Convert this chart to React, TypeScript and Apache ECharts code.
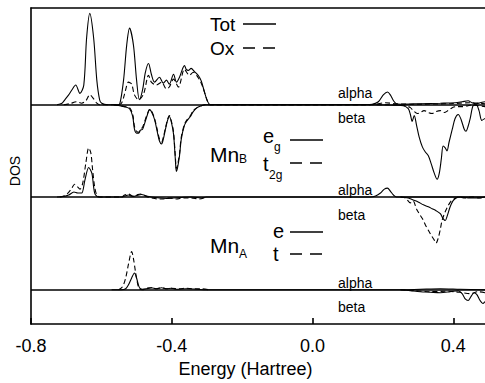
import React, { useEffect, useRef } from "react";
import * as echarts from "echarts";

// ---- axis / tick data ----
const energyMin = -0.8;
const energyMax = 0.49;
const energyTickStep = 0.4;
const dosMin = 0;
const dosMax = 322;

// ---- panel baselines (DOS units on the shared axis) ----
const baseTot = 223.5;
const baseMnB = 129.5;
const baseMnA = 35;

// ---- Panel 1: total and oxygen DOS ----
const totAlpha: [number, number][] = [
  [-0.726, 0], [-0.712, 1.5], [-0.704, 5], [-0.693, 10], [-0.684, 15], [-0.673, 20], [-0.661, 11.5],
  [-0.650, 20], [-0.642, 68], [-0.633, 93], [-0.622, 68], [-0.613, 25], [-0.605, 5], [-0.599, 1.5],
  [-0.582, 0], [-0.554, 0], [-0.548, 0.5], [-0.537, 25], [-0.528, 61], [-0.520, 78], [-0.509, 61],
  [-0.500, 25], [-0.492, 5], [-0.483, 15], [-0.475, 33], [-0.466, 42], [-0.458, 31], [-0.449, 23],
  [-0.435, 28], [-0.424, 22], [-0.415, 25], [-0.407, 21], [-0.395, 31], [-0.387, 23], [-0.378, 28],
  [-0.370, 36], [-0.364, 40], [-0.359, 36], [-0.353, 35], [-0.345, 37], [-0.336, 34], [-0.325, 30],
  [-0.316, 24], [-0.308, 14], [-0.299, 4], [-0.291, 0], [0.151, 0], [0.170, 0.5], [0.187, 3],
  [0.201, 10], [0.213, 13], [0.221, 10], [0.230, 4], [0.238, 1], [0.250, 0.5], [0.306, 1],
  [0.363, 1.5], [0.405, 2], [0.425, 3], [0.442, 4], [0.453, 2], [0.465, 1], [0.476, 2], [0.490, 3],
];
const oxAlpha: [number, number][] = [
  [-0.707, 0], [-0.690, 1], [-0.670, 3], [-0.656, 1.5], [-0.644, 4], [-0.633, 10], [-0.622, 6],
  [-0.613, 1.5], [-0.605, 0], [-0.554, 0], [-0.543, 1.5], [-0.534, 11], [-0.523, 23], [-0.514, 21],
  [-0.506, 10], [-0.494, 5], [-0.480, 11], [-0.466, 30], [-0.458, 23], [-0.444, 20], [-0.429, 23],
  [-0.415, 16], [-0.407, 18], [-0.395, 26], [-0.381, 18], [-0.364, 36], [-0.350, 30], [-0.339, 33],
  [-0.322, 26], [-0.311, 17], [-0.299, 4], [-0.291, 0], [0.151, 0], [0.179, 0.5], [0.207, 2],
  [0.235, 1], [0.278, 0.5], [0.391, 1], [0.448, 2], [0.490, 1],
];
const totBeta: [number, number][] = [
  [-0.565, 0], [-0.548, -1], [-0.534, -2], [-0.520, -4], [-0.511, -12], [-0.506, -25], [-0.500, -29],
  [-0.494, -29], [-0.489, -26], [-0.483, -25], [-0.478, -20], [-0.469, -10], [-0.463, -5], [-0.458, -7],
  [-0.449, -15], [-0.441, -28], [-0.435, -37], [-0.429, -40], [-0.424, -35], [-0.418, -25], [-0.412, -16],
  [-0.407, -12], [-0.401, -18], [-0.395, -30], [-0.390, -55], [-0.387, -68], [-0.384, -65], [-0.378, -52],
  [-0.373, -35], [-0.364, -21], [-0.356, -16], [-0.347, -12], [-0.339, -7], [-0.328, -3], [-0.316, -1],
  [-0.305, 0], [0.165, 0], [0.235, -0.5], [0.258, -1], [0.272, -4], [0.278, -10], [0.283, -17],
  [0.289, -11], [0.295, -20], [0.303, -33], [0.312, -43], [0.320, -48], [0.329, -52], [0.337, -60],
  [0.346, -70], [0.354, -76], [0.360, -70], [0.366, -55], [0.371, -42], [0.377, -44], [0.382, -47],
  [0.388, -38], [0.397, -25], [0.405, -14], [0.414, -10], [0.422, -15], [0.431, -25], [0.436, -27],
  [0.442, -22], [0.448, -14], [0.456, -1], [0.465, 0], [0.473, -6], [0.481, -16], [0.490, -14],
];
const oxBeta: [number, number][] = [
  [-0.565, 0], [-0.534, -2], [-0.520, -3], [-0.511, -10], [-0.506, -22], [-0.500, -27], [-0.494, -28],
  [-0.489, -25], [-0.483, -23], [-0.478, -18], [-0.469, -9], [-0.463, -5], [-0.458, -6], [-0.449, -14],
  [-0.441, -26], [-0.435, -35], [-0.429, -38], [-0.424, -33], [-0.418, -24], [-0.412, -15], [-0.407, -11],
  [-0.401, -17], [-0.395, -28], [-0.390, -52], [-0.387, -65], [-0.384, -62], [-0.378, -50], [-0.373, -33],
  [-0.364, -20], [-0.356, -15], [-0.347, -11], [-0.339, -6], [-0.328, -3], [-0.316, -1], [-0.305, 0],
  [0.235, 0], [0.264, -1], [0.278, -3], [0.286, -6], [0.298, -9], [0.306, -8], [0.317, -6], [0.329, -8],
  [0.340, -9], [0.351, -7], [0.363, -6], [0.374, -8], [0.385, -6], [0.397, -3], [0.408, -2], [0.425, -2],
  [0.442, -1], [0.456, 0], [0.470, -1], [0.490, -2],
];

// ---- Panel 2: Mn_B projected DOS ----
const egAlphaB: [number, number][] = [
  [-0.726, 0], [-0.707, 0.5], [-0.693, 2], [-0.678, 5], [-0.667, 4], [-0.656, 4], [-0.647, 17],
  [-0.636, 30], [-0.627, 24], [-0.619, 4], [-0.608, 0], [-0.543, 0], [-0.534, 1], [-0.523, 2],
  [-0.511, 0.5], [-0.500, 1.5], [-0.486, 2.5], [-0.472, 1], [-0.458, 0], [-0.435, -1], [-0.415, -1.5],
  [-0.395, -1], [-0.373, -0.5], [-0.345, 0], [-0.316, -1], [-0.302, 0], [0.165, 0], [0.179, 1],
  [0.193, 4], [0.204, 8], [0.213, 9], [0.221, 6], [0.230, 2], [0.238, 0], [0.490, 0],
];
const t2gAlphaB: [number, number][] = [
  [-0.718, 0], [-0.707, 1], [-0.695, 4], [-0.684, 9], [-0.676, 13], [-0.667, 10], [-0.661, 8],
  [-0.653, 14], [-0.644, 35], [-0.636, 50], [-0.630, 45], [-0.625, 28], [-0.619, 10], [-0.613, 2],
  [-0.605, 0], [-0.543, 0], [-0.534, 2], [-0.523, 3], [-0.511, 1], [-0.500, 2], [-0.489, 3],
  [-0.475, 1], [-0.458, -1], [-0.441, -2], [-0.424, -2], [-0.407, -1], [-0.387, -2], [-0.367, -1],
  [-0.345, -1], [-0.322, -2], [-0.302, 0],
];
const egBetaB: [number, number][] = [
  [0.250, 0], [0.272, -1], [0.286, -3], [0.300, -5], [0.315, -8], [0.329, -10], [0.340, -12],
  [0.351, -14], [0.363, -17], [0.371, -22], [0.377, -24], [0.382, -20], [0.391, -10], [0.399, -4],
  [0.408, -1], [0.419, 0], [0.448, -1], [0.470, -1], [0.490, 0],
];
const t2gBetaB: [number, number][] = [
  [0.250, 0], [0.264, -1], [0.278, -6], [0.286, -4], [0.295, -12], [0.303, -17], [0.312, -22],
  [0.320, -28], [0.329, -34], [0.337, -39], [0.346, -44], [0.351, -47], [0.357, -42], [0.363, -33],
  [0.368, -24], [0.377, -15], [0.385, -9], [0.394, -4], [0.402, -2], [0.414, 0], [0.433, -1],
  [0.453, 0], [0.476, -1], [0.490, 0],
];

// ---- Panel 3: Mn_A projected DOS ----
const eAlphaA: [number, number][] = [
  [-0.571, 0], [-0.543, 0], [-0.531, 1], [-0.523, 5], [-0.514, 12], [-0.506, 17], [-0.500, 12],
  [-0.494, 4], [-0.489, 1], [-0.483, 0.5], [-0.472, 1], [-0.458, 2], [-0.444, 1], [-0.429, 2],
  [-0.415, 1], [-0.401, 1.5], [-0.387, 0.5], [-0.359, 1], [-0.330, 0.5], [-0.302, 0], [0.250, 0],
  [0.306, 0.5], [0.363, 1], [0.419, 0.5], [0.490, 0],
];
const tAlphaA: [number, number][] = [
  [-0.551, 0], [-0.540, 3], [-0.531, 12], [-0.523, 26], [-0.514, 39], [-0.509, 32], [-0.503, 18],
  [-0.497, 6], [-0.492, 1], [-0.483, 0], [-0.472, 1.5], [-0.458, 2], [-0.444, 1], [-0.429, 2],
  [-0.415, 1], [-0.401, 1.5], [-0.378, 1], [-0.359, 1.5], [-0.339, 1], [-0.316, 1], [-0.296, 0],
];
const eBetaA: [number, number][] = [
  [0.250, 0], [0.278, -1], [0.306, -2], [0.334, -2.5], [0.363, -3], [0.391, -2], [0.414, -1],
  [0.425, -4], [0.433, -9], [0.442, -11], [0.450, -7], [0.459, -3], [0.467, -5], [0.476, -11],
  [0.484, -14], [0.490, -12],
];
const tBetaA: [number, number][] = [
  [0.250, 0], [0.292, -1], [0.334, -2], [0.377, -1.5], [0.405, -2], [0.425, -3], [0.448, -4],
  [0.470, -2], [0.490, -3],
];

const FONT = "'Liberation Sans', Arial, Helvetica, sans-serif";

function curve(name: string, pts: [number, number][], base: number, dashed: boolean, baseline?: boolean) {
  const s: any = {
    type: "line",
    name,
    data: pts.map(([e, v]) => [e, v + base]),
    symbol: "none",
    showSymbol: false,
    smooth: 0.3,
    silent: true,
    lineStyle: { color: "#000", width: 1.1, type: dashed ? [5, 3] : "solid" },
    z: dashed ? 3 : 4,
  };
  if (baseline) {
    s.markLine = {
      silent: true,
      symbol: ["none", "none"],
      label: { show: false },
      lineStyle: { color: "#000", width: 1.6, type: "solid" },
      data: [{ yAxis: base }],
    };
  }
  return s;
}

function txt(text: string, x: number, y: number, size: number, extra: any = {}) {
  return {
    type: "text",
    x,
    y,
    silent: true,
    z: 10,
    style: { text, fill: "#000", fontSize: size, fontFamily: FONT, align: "left", verticalAlign: "middle", ...extra },
  };
}
function seg(x1: number, x2: number, y: number, dashed: boolean) {
  return {
    type: "line",
    silent: true,
    z: 10,
    shape: { x1, y1: y, x2, y2: y },
    style: { stroke: "#000", lineWidth: 1.3, lineDash: dashed ? [12, 8] : null },
  };
}

export default function App() {
  const ref = useRef<HTMLDivElement>(null);
  useEffect(() => {
    if (!ref.current) return;
    const chart = echarts.init(ref.current, null, { renderer: "svg" });
    const option: any = {
      animation: false,
      backgroundColor: "#fff",
      grid: { left: 29, right: 0, top: 8, bottom: 53 },
      xAxis: [
        {
          type: "value",
          min: energyMin,
          max: energyMax,
          interval: energyTickStep,
          name: "Energy (Hartree)",
          nameLocation: "middle",
          nameGap: 33,
          nameTextStyle: { fontSize: 18, fontFamily: FONT, color: "#000", padding: [0, 25, 0, 0] },
          axisLine: { show: true, onZero: false, lineStyle: { color: "#000", width: 1.6 } },
          axisTick: { show: true, inside: true, length: 6, lineStyle: { color: "#000", width: 1.6 } },
          axisLabel: {
            show: true,
            margin: 13,
            fontSize: 18,
            fontFamily: FONT,
            color: "#000",
            showMaxLabel: false,
            formatter: (v: number) => v.toFixed(1),
          },
          splitLine: { show: false },
        },
        {
          type: "value",
          position: "top",
          min: energyMin,
          max: energyMax,
          axisLine: { show: true, onZero: false, lineStyle: { color: "#000", width: 1.6 } },
          axisTick: { show: false },
          axisLabel: { show: false },
          splitLine: { show: false },
        },
      ],
      yAxis: {
        type: "value",
        position: "left",
        min: dosMin,
        max: dosMax,
        name: "DOS",
        nameLocation: "middle",
        nameGap: 9,
        nameTextStyle: { fontSize: 14, fontFamily: FONT, color: "#000", padding: [0, 10, 0, 0] },
        axisLine: { show: true, onZero: false, lineStyle: { color: "#000", width: 1.6 } },
        axisTick: { show: false },
        axisLabel: { show: false },
        splitLine: { show: false },
      },
      series: [
        curve("Tot alpha", totAlpha, baseTot, false, true),
        curve("Ox alpha", oxAlpha, baseTot, true),
        curve("Tot beta", totBeta, baseTot, false),
        curve("Ox beta", oxBeta, baseTot, true),
        curve("eg alpha", egAlphaB, baseMnB, false, true),
        curve("t2g alpha", t2gAlphaB, baseMnB, true),
        curve("eg beta", egBetaB, baseMnB, false),
        curve("t2g beta", t2gBetaB, baseMnB, true),
        curve("e alpha", eAlphaA, baseMnA, false, true),
        curve("t alpha", tAlphaA, baseMnA, true),
        curve("e beta", eBetaA, baseMnA, false),
        curve("t beta", tBetaA, baseMnA, true),
      ],
      graphic: [
        txt("Tot", 210, 24.5, 19),
        seg(243, 276, 24, false),
        txt("Ox", 210, 48.5, 19),
        seg(243, 276, 48, true),
        txt("Mn", 210, 154.5, 21),
        txt("B", 239, 159, 12),
        txt("e", 263, 136, 20),
        txt("g", 274, 147, 12),
        seg(290, 323, 140, false),
        txt("t", 263, 164, 20),
        txt("2g", 269, 175, 12),
        seg(290, 323, 163, true),
        txt("Mn", 210, 245.5, 21),
        txt("A", 239, 254, 12),
        txt("e", 273, 230.5, 20),
        seg(290, 323, 232, false),
        txt("t", 273, 254, 20),
        seg(290, 323, 254, true),
        txt("alpha", 338, 93, 14),
        txt("beta", 338, 118, 14),
        txt("alpha", 338, 190, 14),
        txt("beta", 338, 215, 14),
        txt("alpha", 338, 283, 14),
        txt("beta", 338, 307, 14),
      ],
    };
    chart.setOption(option);
    return () => chart.dispose();
  }, []);
  return <div ref={ref} style={{ position: "fixed", left: 0, top: 0, width: 485, height: 383 }} />;
}
